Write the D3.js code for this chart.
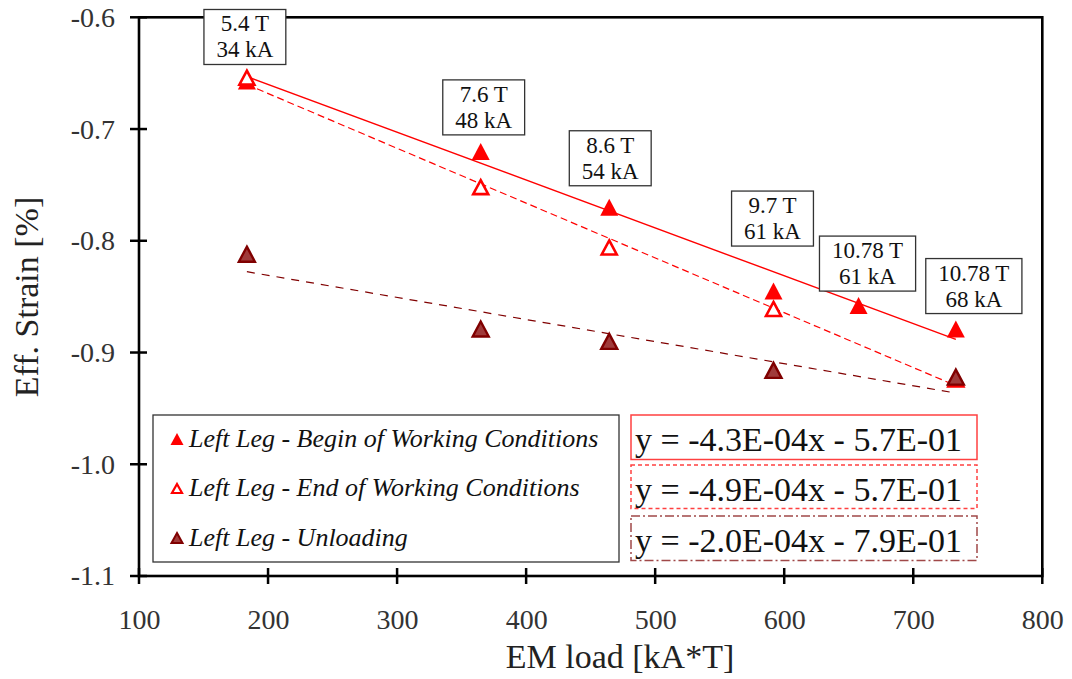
<!DOCTYPE html>
<html>
<head>
<meta charset="utf-8">
<script src="https://cdn.jsdelivr.net/npm/d3@7"></script>
</head>
<body style="margin:0;padding:0;background:#fff">
<svg id="chart" width="1072" height="679" style="display:block"></svg>
<script>
// ---------------- data ----------------
const emLoad      = [183.6, 364.8, 464.4, 591.7, 657.6, 733.0];
const beginStrain = [-0.657, -0.720, -0.770, -0.845, -0.858, -0.879];
const endLoad     = [183.6, 364.8, 464.4, 591.7, 733.0];
const endStrain   = [-0.654, -0.752, -0.806, -0.861, -0.924];
const unlLoad     = [183.6, 364.8, 464.4, 591.7, 733.0];
const unlStrain   = [-0.812, -0.879, -0.890, -0.916, -0.922];
const pointField  = ["5.4 T", "7.6 T", "8.6 T", "9.7 T", "10.78 T", "10.78 T"];
const pointCurr   = ["34 kA", "48 kA", "54 kA", "61 kA", "61 kA", "68 kA"];
const seriesNames = ["Left Leg - Begin of Working Conditions",
                     "Left Leg - End of Working Conditions",
                     "Left Leg - Unloading"];
const equations   = ["y = -4.3E-04x - 5.7E-01",
                     "y = -4.9E-04x - 5.7E-01",
                     "y = -2.0E-04x - 7.9E-01"];
const xTicks = [100, 200, 300, 400, 500, 600, 700, 800];
const yTicks = [-0.6, -0.7, -0.8, -0.9, -1.0, -1.1];

// ---------------- layout (kept apart from data) ----------------
const fontParts = ["Liberation", "Serif"];
const FONT = "'" + fontParts.join(" ") + "'";
const plot = { left: 139, top: 17.3, right: 1042.3, bottom: 576 };
const labelOffsets = [[-2, -44], [3, -44], [1, -49], [-1, -72.5], [9, -42], [18, -43]];
const RED = "#ff0000", DARK = "#800000";

const svg = d3.select("#chart");
const x = d3.scaleLinear().domain([100, 800]).range([plot.left, plot.right]);
const y = d3.scaleLinear().domain([-1.1, -0.6]).range([plot.bottom, plot.top]);

function fit(xs, ys) {
  const mx = d3.mean(xs), my = d3.mean(ys);
  let sxy = 0, sxx = 0;
  xs.forEach((v, i) => { sxy += (v - mx) * (ys[i] - my); sxx += (v - mx) * (v - mx); });
  const b = sxy / sxx;
  return { b, a: my - b * mx, x0: d3.min(xs), x1: d3.max(xs) };
}
function tri(w, h) {
  return `M0,${-h / 2}L${w / 2},${h / 2}L${-w / 2},${h / 2}Z`;
}
function txt(sel) {
  return sel.style("font-family", FONT);
}

// ---------------- trendlines ----------------
const fits = [fit(emLoad, beginStrain), fit(endLoad, endStrain), fit(unlLoad, unlStrain)];
const lineStyles = [
  { stroke: RED, dash: null, w: 1.4 },
  { stroke: RED, dash: "7,4", w: 1.2 },
  { stroke: DARK, dash: "8,7", w: 1.2 }
];
fits.forEach((f, i) => {
  svg.append("line")
    .attr("x1", x(f.x0)).attr("y1", y(f.a + f.b * f.x0))
    .attr("x2", x(f.x1)).attr("y2", y(f.a + f.b * f.x1))
    .attr("stroke", lineStyles[i].stroke)
    .attr("stroke-width", lineStyles[i].w)
    .attr("stroke-dasharray", lineStyles[i].dash);
});

// ---------------- markers ----------------
const beginPts = emLoad.map((v, i) => [v, beginStrain[i]]);
const endPts = endLoad.map((v, i) => [v, endStrain[i]]);
const unlPts = unlLoad.map((v, i) => [v, unlStrain[i]]);

svg.append("g").selectAll("path").data(beginPts).join("path")
  .attr("transform", d => `translate(${x(d[0])},${y(d[1])})`)
  .attr("d", tri(18, 17)).attr("fill", RED);

svg.append("g").selectAll("path").data(endPts).join("path")
  .attr("transform", d => `translate(${x(d[0])},${y(d[1])})`)
  .attr("d", tri(15, 14)).attr("fill", "#fff").attr("stroke", RED).attr("stroke-width", 2.6);

svg.append("g").selectAll("path").data(unlPts).join("path")
  .attr("transform", d => `translate(${x(d[0])},${y(d[1])})`)
  .attr("d", tri(16, 15)).attr("fill", "#a03a3a").attr("stroke", DARK).attr("stroke-width", 2.4);

// ---------------- axes ----------------
const axisColor = "#000";
const xAxis = svg.append("g").attr("transform", `translate(0,${plot.bottom})`)
  .call(d3.axisBottom(x).tickValues(xTicks).tickSize(0).tickPadding(33).tickFormat(d3.format("d")));
xAxis.attr("font-family", null);
xAxis.select(".domain").remove();
txt(xAxis.selectAll("text")).attr("font-size", 28).attr("fill", "#333");

const yAxis = svg.append("g").attr("transform", `translate(${plot.left},0)`)
  .call(d3.axisLeft(y).tickValues(yTicks).tickSize(0).tickPadding(24));
yAxis.attr("font-family", null);
yAxis.select(".domain").remove();
txt(yAxis.selectAll("text")).attr("font-size", 28).attr("fill", "#333")
  .text(d => d3.format(".1f")(d).replace("\u2212", "-"));

// tick marks crossing axis
svg.append("g").selectAll("line").data(xTicks).join("line")
  .attr("x1", d => x(d)).attr("x2", d => x(d))
  .attr("y1", plot.bottom - 8).attr("y2", plot.bottom + 8)
  .attr("stroke", axisColor).attr("stroke-width", 2.5);
svg.append("g").selectAll("line").data(yTicks).join("line")
  .attr("y1", d => y(d)).attr("y2", d => y(d))
  .attr("x1", plot.left - 9).attr("x2", plot.left + 8)
  .attr("stroke", axisColor).attr("stroke-width", 2.5);

// frame
svg.append("rect")
  .attr("x", plot.left).attr("y", plot.top)
  .attr("width", plot.right - plot.left).attr("height", plot.bottom - plot.top)
  .attr("fill", "none").attr("stroke", axisColor).attr("stroke-width", 2.6);

// axis titles
txt(svg.append("text")).attr("x", 620).attr("y", 668)
  .attr("text-anchor", "middle").attr("font-size", 34).attr("fill", "#222")
  .text("EM load [kA*T]");
txt(svg.append("text"))
  .attr("transform", `translate(38,${297}) rotate(-90)`)
  .attr("text-anchor", "middle").attr("font-size", 34).attr("fill", "#222")
  .text("Eff. Strain [%]");

// ---------------- legend ----------------
const lg = svg.append("g");
lg.append("rect").attr("x", 153).attr("y", 415).attr("width", 466).attr("height", 147)
  .attr("fill", "#fff").attr("stroke", "#333").attr("stroke-width", 1.3);
const legendMarks = [
  { d: tri(13, 12), fill: RED, stroke: "none", sw: 0 },
  { d: tri(10, 9), fill: "#fff", stroke: RED, sw: 2.2 },
  { d: tri(11, 10), fill: "#a03a3a", stroke: DARK, sw: 2 }
];
seriesNames.forEach((name, i) => {
  const cy = 439 + i * 49.5;
  lg.append("path").attr("transform", `translate(177,${cy})`)
    .attr("d", legendMarks[i].d).attr("fill", legendMarks[i].fill)
    .attr("stroke", legendMarks[i].stroke).attr("stroke-width", legendMarks[i].sw);
  txt(lg.append("text")).attr("x", 189).attr("y", cy + 7.5)
    .attr("font-size", 26).attr("font-style", "italic").attr("fill", "#111")
    .text(name);
});

// ---------------- equation boxes ----------------
const eqBoxes = [
  { y: 415, h: 44.5, stroke: "#ff4040", dash: null },
  { y: 465, h: 43.5, stroke: "#ff4040", dash: "4,3" },
  { y: 516, h: 44.5, stroke: "#a04848", dash: "9,3,2,3" }
];
equations.forEach((eq, i) => {
  const b = eqBoxes[i];
  svg.append("rect").attr("x", 631).attr("y", b.y).attr("width", 346).attr("height", b.h)
    .attr("fill", "#fff").attr("stroke", b.stroke).attr("stroke-width", 1.5)
    .attr("stroke-dasharray", b.dash);
  txt(svg.append("text")).attr("x", 635).attr("y", b.y + 35.5)
    .attr("font-size", 34).attr("fill", "#111").text(eq);
});

// ---------------- data labels ----------------
beginPts.forEach((d, i) => {
  const cx = x(d[0]) + labelOffsets[i][0];
  const cy = y(d[1]) + labelOffsets[i][1];
  const g = svg.append("g");
  const rect = g.append("rect").attr("fill", "#fff").attr("stroke", "#333").attr("stroke-width", 1.3);
  const t1 = txt(g.append("text")).attr("x", cx).attr("y", cy - 5.5).attr("text-anchor", "middle")
    .attr("font-size", 23).attr("fill", "#111").text(pointField[i]);
  const t2 = txt(g.append("text")).attr("x", cx).attr("y", cy + 20.5).attr("text-anchor", "middle")
    .attr("font-size", 23).attr("fill", "#111").text(pointCurr[i]);
  const w = Math.max(t1.node().getComputedTextLength(), t2.node().getComputedTextLength()) + 25;
  rect.attr("x", cx - w / 2).attr("y", cy - 27.5).attr("width", w).attr("height", 55);
});
</script>
</body>
</html>
